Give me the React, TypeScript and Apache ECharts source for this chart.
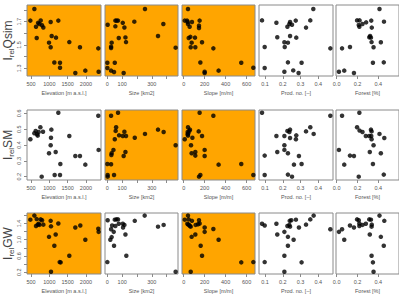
import React, { useEffect, useRef } from "react";
import * as echarts from "echarts";

// ---------- data (x, y) per panel ----------
const qsimElev = [[482,1.709],[591,1.809],[636,1.657],[655,1.56],[691,1.69],[727,1.68],[764,1.71],[800,1.669],[836,1.65],[991,1.52],[1036,1.48],[1036,1.697],[1064,1.577],[1136,1.35],[1182,1.563],[1245,1.709],[1291,1.348],[1291,1.305],[1545,1.525],[1709,1.26],[1836,1.48],[1982,1.28],[2336,1.471],[2345,1.271]];
const qsimSize = [[2,1.674],[0,1.348],[0,1.302],[25,1.28],[29,1.52],[25,1.474],[25,1.485],[45,1.268],[50,1.348],[54,1.709],[54,1.66],[63,1.709],[72,1.709],[77,1.56],[104,1.69],[110,1.26],[115,1.65],[122,1.565],[126,1.525],[182,1.7],[254,1.809],[342,1.577],[378,1.68],[461,1.477]];
const qsimSlope = [[10,1.709],[41,1.809],[32,1.709],[38,1.697],[41,1.68],[57,1.657],[79,1.697],[48,1.56],[64,1.57],[108,1.563],[76,1.52],[67,1.48],[111,1.48],[146,1.666],[146,1.646],[152,1.709],[175,1.523],[159,1.35],[200,1.271],[200,1.26],[283,1.471],[333,1.28],[549,1.348],[664,1.305]];
const qsimProd = [[0.083,1.711],[0.098,1.483],[0.098,1.302],[0.164,1.691],[0.169,1.566],[0.209,1.523],[0.211,1.483],[0.209,1.271],[0.226,1.657],[0.229,1.52],[0.229,1.351],[0.237,1.68],[0.241,1.697],[0.241,1.577],[0.252,1.674],[0.259,1.282],[0.273,1.709],[0.276,1.563],[0.289,1.26],[0.306,1.348],[0.331,1.649],[0.355,1.711],[0.372,1.809],[0.468,1.471]];
const qsimForest = [[0.022,1.271],[0.052,1.471],[0.073,1.28],[0.128,1.483],[0.166,1.26],[0.196,1.711],[0.212,1.671],[0.22,1.711],[0.218,1.657],[0.248,1.68],[0.283,1.694],[0.313,1.566],[0.321,1.577],[0.329,1.563],[0.332,1.709],[0.337,1.649],[0.335,1.525],[0.354,1.48],[0.348,1.348],[0.411,1.809],[0.424,1.523],[0.454,1.7],[0.452,1.351]];

const smElev = [[482,0.436],[591,0.474],[627,0.489],[664,0.468],[682,0.459],[709,0.482],[755,0.512],[791,0.2],[827,0.484],[991,0.348],[1036,0.398],[1045,0.446],[1055,0.497],[1145,0.211],[1173,0.356],[1245,0.604],[1291,0.211],[1300,0.28],[1545,0.457],[1709,0.331],[1836,0.331],[1982,0.276],[2336,0.585],[2345,0.369]];
const smSize = [[0,0.28],[2,0.211],[2,0.2],[25,0.585],[25,0.278],[27,0.337],[29,0.348],[41,0.369],[45,0.211],[50,0.436],[56,0.489],[59,0.512],[72,0.604],[79,0.461],[104,0.457],[115,0.484],[110,0.331],[122,0.356],[126,0.457],[185,0.446],[254,0.47],[342,0.497],[380,0.482],[461,0.398]];
const smSlope = [[10,0.436],[41,0.512],[38,0.482],[38,0.468],[41,0.459],[54,0.489],[60,0.497],[44,0.474],[83,0.446],[70,0.398],[76,0.348],[111,0.356],[111,0.333],[143,0.486],[152,0.604],[175,0.457],[200,0.369],[200,0.331],[146,0.2],[159,0.211],[283,0.585],[333,0.276],[549,0.28],[664,0.211]];
const smProd = [[0.083,0.604],[0.098,0.333],[0.098,0.211],[0.164,0.457],[0.169,0.356],[0.209,0.457],[0.209,0.398],[0.209,0.369],[0.226,0.489],[0.229,0.348],[0.229,0.213],[0.237,0.482],[0.241,0.497],[0.241,0.444],[0.252,0.2],[0.263,0.276],[0.276,0.461],[0.274,0.436],[0.291,0.331],[0.306,0.28],[0.331,0.486],[0.355,0.512],[0.374,0.47],[0.468,0.585]];
const smForest = [[0.022,0.369],[0.052,0.585],[0.073,0.276],[0.128,0.333],[0.166,0.331],[0.196,0.512],[0.218,0.604],[0.22,0.491],[0.212,0.2],[0.248,0.482],[0.28,0.457],[0.313,0.457],[0.329,0.497],[0.335,0.486],[0.332,0.457],[0.335,0.436],[0.318,0.356],[0.354,0.398],[0.348,0.28],[0.411,0.47],[0.424,0.348],[0.457,0.444],[0.452,0.213]];

const gwElev = [[482,1.493],[591,1.593],[636,1.336],[655,1.507],[682,1.371],[709,1.393],[727,1.364],[764,1.5],[800,1.479],[836,1.371],[991,1.071],[1036,1.464],[1045,1.329],[1045,0.214],[1136,0.85],[1173,1.129],[1245,1.4],[1282,0.45],[1309,0.443],[1545,0.607],[1709,1.3],[1845,1.35],[1982,1.0],[2336,1.271],[2345,1.193]];
const gwSize = [[2,1.479],[0,0.45],[20,1.0],[25,1.257],[29,1.064],[32,1.35],[43,1.193],[45,0.85],[50,1.493],[54,1.336],[61,1.5],[72,1.5],[77,1.393],[104,1.393],[106,1.3],[115,1.364],[122,1.129],[128,0.607],[185,1.464],[252,1.593],[342,1.321],[380,1.364],[461,0.214]];
const gwSlope = [[10,1.493],[41,1.593],[48,1.5],[35,1.393],[44,1.371],[51,1.364],[60,1.336],[67,1.321],[79,1.464],[76,1.071],[111,1.129],[114,1.364],[137,1.379],[146,1.479],[152,1.4],[162,0.85],[175,0.607],[200,1.3],[200,1.193],[283,1.264],[333,1.0],[67,0.214],[549,0.443],[664,0.45]];
const gwProd = [[0.083,1.393],[0.098,1.35],[0.098,0.45],[0.164,1.393],[0.169,1.129],[0.209,1.193],[0.209,0.607],[0.209,0.214],[0.226,1.336],[0.229,1.071],[0.229,0.85],[0.237,1.364],[0.239,1.464],[0.241,1.321],[0.248,1.479],[0.261,1.0],[0.274,1.493],[0.291,1.3],[0.306,0.443],[0.331,1.371],[0.355,1.5],[0.374,1.593],[0.468,1.257]];
const gwForest = [[0.022,1.193],[0.052,1.257],[0.073,1.0],[0.128,1.35],[0.166,1.3],[0.196,1.5],[0.212,1.479],[0.218,1.4],[0.218,1.336],[0.248,1.364],[0.28,1.393],[0.313,1.5],[0.329,1.493],[0.335,1.321],[0.337,1.371],[0.318,1.129],[0.335,0.607],[0.348,0.443],[0.354,0.214],[0.411,1.593],[0.424,1.071],[0.457,1.464],[0.452,0.85]];

// ---------- axes ----------
const xNames = ["Elevation [m a.s.l.]", "Size [km2]", "Slope [m/m]", "Prod. no. [\u2013]", "Forest [%]"];
const elevTicks = [500, 1000, 1500, 2000];
const elevLabels = [500, 1000, 1500, 2000];
const sizeTicks = [0, 100, 200, 300, 400];
const sizeLabels = [0, 100, 300];
const slopeTicks = [0, 200, 400, 600];
const slopeLabels = [0, 200, 400, 600];
const prodTicks = [0.1, 0.2, 0.3, 0.4];
const prodLabels = [0.1, 0.2, 0.3, 0.4];
const forestTicks = [0, 0.2, 0.4];
const forestLabels = [0, 0.2, 0.4];

const yNames = ["Qsim", "SM", "GW"];
const qsimTicks = [1.3, 1.4, 1.5, 1.6, 1.7, 1.8];
const qsimLabels = [1.3, 1.5, 1.7];
const smTicks = [0.2, 0.3, 0.4, 0.5, 0.6];
const smLabels = [0.2, 0.3, 0.4, 0.5, 0.6];
const gwTicks = [0.2, 0.4, 0.6, 0.8, 1.0, 1.2, 1.4, 1.6];
const gwLabels = [0.2, 0.6, 1.0, 1.4];

const panelData = [
  [qsimElev, qsimSize, qsimSlope, qsimProd, qsimForest],
  [smElev, smSize, smSlope, smProd, smForest],
  [gwElev, gwSize, gwSlope, gwProd, gwForest],
];
const highlighted = [
  [true, true, true, false, false],
  [false, true, true, false, false],
  [true, false, true, false, false],
];

// layout / style config
const xCfg = [
  { min: 390, max: 2410, ticks: elevTicks, labels: elevLabels, dec: 0 },
  { min: -16, max: 477, ticks: sizeTicks, labels: sizeLabels, dec: 0 },
  { min: -16, max: 680, ticks: slopeTicks, labels: slopeLabels, dec: 0 },
  { min: 0.066, max: 0.483, ticks: prodTicks, labels: prodLabels, dec: 1 },
  { min: -0.006, max: 0.598, ticks: forestTicks, labels: forestLabels, dec: 1 },
];
const yCfg = [
  { min: 1.234, max: 1.843, ticks: qsimTicks, labels: qsimLabels },
  { min: 0.179, max: 0.621, ticks: smTicks, labels: smLabels },
  { min: 0.157, max: 1.657, ticks: gwTicks, labels: gwLabels },
];
const colLeft = [27, 105, 182, 259, 336];
const colWidth = [74, 73, 73, 74, 74];
const rowTop = [5, 110, 213];
const rowHeight = [71, 70, 70];

const ORANGE = "#FFA500";
const BORDER = "#8a8a8a";
const TXT = "#555";
const FONT = "Liberation Sans, Arial, sans-serif";
const SMALL = 5.5;

export default function App() {
  const ref = useRef<HTMLDivElement>(null);
  useEffect(() => {
    if (!ref.current) return;
    const chart = echarts.init(ref.current, null, { renderer: "svg" });
    const grid: any[] = [];
    const xAxis: any[] = [];
    const yAxis: any[] = [];
    const series: any[] = [];
    for (let r = 0; r < 3; r++) {
      for (let c = 0; c < 5; c++) {
        const i = r * 5 + c;
        grid.push({
          left: colLeft[c],
          top: rowTop[r],
          width: colWidth[c],
          height: rowHeight[r],
          show: true,
          backgroundColor: highlighted[r][c] ? ORANGE : "#ffffff",
          borderColor: BORDER,
          borderWidth: 1,
        });
        const xc = xCfg[c];
        xAxis.push({
          type: "value",
          gridIndex: i,
          min: xc.min,
          max: xc.max,
          name: xNames[c],
          nameLocation: "middle",
          nameGap: 14,
          nameTextStyle: { fontSize: SMALL, color: TXT, fontFamily: FONT },
          axisLine: { show: false },
          splitLine: { show: false },
          axisTick: {
            show: true,
            length: 3,
            customValues: xc.ticks,
            lineStyle: { color: BORDER, width: 1 },
          },
          axisLabel: {
            show: true,
            customValues: xc.labels,
            fontSize: SMALL,
            color: TXT,
            fontFamily: FONT,
            margin: 5,
            formatter: (v: number) => v.toFixed(xc.dec),
          },
        });
        const yc = yCfg[r];
        const first = c === 0;
        yAxis.push({
          type: "value",
          gridIndex: i,
          min: yc.min,
          max: yc.max,
          name: first ? `{i|I}{s|rel}{q|${yNames[r]}}` : "",
          nameLocation: "middle",
          nameGap: 7,
          nameRotate: 90,
          nameTextStyle: {
            color: "#444",
            fontFamily: FONT,
            rich: {
              i: { fontSize: 12, color: "#444", fontFamily: FONT, lineHeight: 14, verticalAlign: "middle" },
              q: { fontSize: 12, color: "#444", fontFamily: FONT, lineHeight: 14, verticalAlign: "middle" },
              s: { fontSize: 8, color: "#444", fontFamily: FONT, verticalAlign: "bottom" },
            },
          },
          axisLine: { show: false },
          splitLine: { show: false },
          axisTick: {
            show: first,
            length: 3,
            customValues: yc.ticks,
            lineStyle: { color: BORDER, width: 1 },
          },
          axisLabel: {
            show: first,
            customValues: yc.labels,
            rotate: 90,
            fontSize: SMALL,
            color: TXT,
            fontFamily: FONT,
            margin: 5,
            formatter: (v: number) => v.toFixed(1),
          },
        });
        series.push({
          type: "scatter",
          xAxisIndex: i,
          yAxisIndex: i,
          data: panelData[r][c],
          symbol: "circle",
          symbolSize: 4.5,
          itemStyle: { color: "#000" },
          silent: true,
        });
      }
    }
    chart.setOption({
      animation: false,
      backgroundColor: "#ffffff",
      grid,
      xAxis,
      yAxis,
      series,
    });
    return () => chart.dispose();
  }, []);
  return (
    <div
      ref={ref}
      style={{ position: "absolute", left: 0, top: 0, width: 399, height: 295 }}
    />
  );
}
